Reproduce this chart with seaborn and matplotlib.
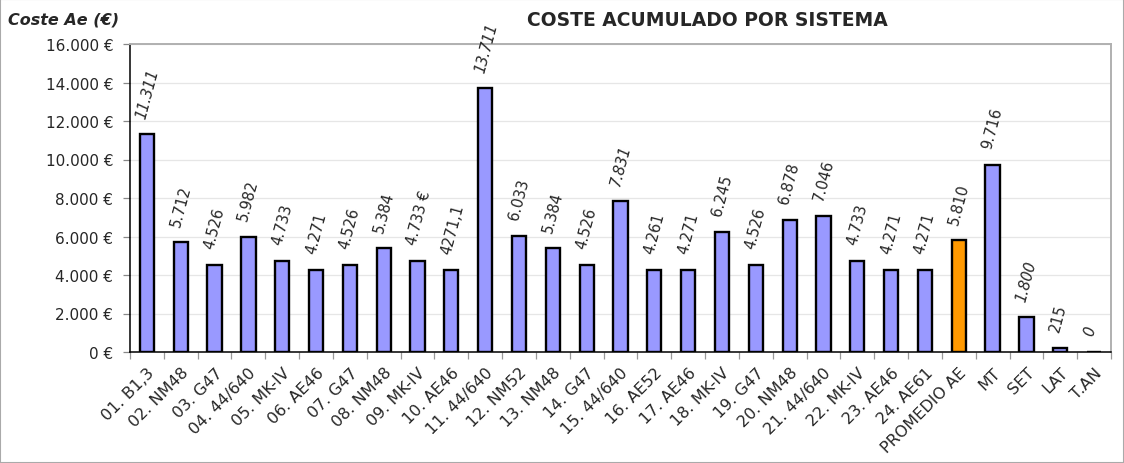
import matplotlib
matplotlib.use("Agg")
import matplotlib.pyplot as plt
from matplotlib.patches import Rectangle
from matplotlib.ticker import FuncFormatter, FixedLocator
import seaborn as sns
import pandas as pd

# Systems and their accumulated cost (€)
systems = [
    "01. B1,3", "02. NM48", "03. G47", "04. 44/640", "05. MK-IV", "06. AE46",
    "07. G47", "08. NM48", "09. MK-IV", "10. AE46", "11. 44/640", "12. NM52",
    "13. NM48", "14. G47", "15. 44/640", "16. AE52", "17. AE46", "18. MK-IV",
    "19. G47", "20. NM48", "21. 44/640", "22. MK-IV", "23. AE46", "24. AE61",
    "PROMEDIO AE", "MT", "SET", "LAT", "T.AN",
]
costs = [
    11311, 5712, 4526, 5982, 4733, 4271, 4526, 5384, 4733, 4271.1, 13711, 6033,
    5384, 4526, 7831, 4261, 4271, 6245, 4526, 6878, 7046, 4733, 4271, 4271,
    5810, 9716, 1800, 215, 0,
]
value_labels = [
    "11.311", "5.712", "4.526", "5.982", "4.733", "4.271", "4.526", "5.384",
    "4.733 €", "4271,1", "13.711", "6.033", "5.384", "4.526", "7.831", "4.261",
    "4.271", "6.245", "4.526", "6.878", "7.046", "4.733", "4.271", "4.271",
    "5.810", "9.716", "1.800", "215", "0",
]
y_ticks = [0, 2000, 4000, 6000, 8000, 10000, 12000, 14000, 16000]

# Styling
bar_color = "#9999FF"
highlight = "PROMEDIO AE"
highlight_color = "#FF9900"
italic_labels = {"11.311", "13.711", "7.831", "1.800", "0"}

df = pd.DataFrame({"sistema": systems, "coste": costs})
palette = {s: (highlight_color if s == highlight else bar_color) for s in systems}

sns.set_theme(style="white", rc={"axes.edgecolor": "#b0b0b0"})
plt.rcParams["font.family"] = ["DejaVu Sans"]

fig = plt.figure(figsize=(11.24, 4.64), dpi=100)
ax = fig.add_axes([130 / 1124, 1 - 353 / 464, (1111 - 130) / 1124, (353 - 45) / 464])

sns.barplot(
    data=df, x="sistema", y="coste", hue="sistema", palette=palette,
    order=systems, hue_order=systems, legend=False, width=0.42,
    edgecolor="black", linewidth=1.7, saturation=1, ax=ax,
)

n = len(systems)
ax.set_xlim(-0.5, n - 0.5)
ax.set_ylim(0, 16000)
ax.yaxis.set_major_locator(FixedLocator(y_ticks))
ax.yaxis.set_major_formatter(
    FuncFormatter(lambda v, _: f"{int(v):,}".replace(",", ".") + " €")
)
ax.yaxis.grid(True, color="#e6e6e6", linewidth=0.9)
ax.set_axisbelow(True)

# category labels at bar centres, tick marks at category boundaries
ax.set_xticks(range(n))
ax.set_xticklabels(systems, fontsize=11.5)
for lbl in ax.get_xticklabels():
    lbl.set_rotation(45)
    lbl.set_ha("right")
    lbl.set_va("top")
    lbl.set_rotation_mode("anchor")
ax.tick_params(axis="x", which="major", length=0, pad=9)
ax.set_xticks([i - 0.5 for i in range(n + 1)], minor=True)
ax.tick_params(axis="x", which="minor", direction="out", length=5,
               color="#999999", width=0.9, bottom=True)
ax.tick_params(axis="y", direction="out", length=5, color="#888888",
               width=0.9, left=True, labelsize=11, pad=7)

ax.set_xlabel("")
ax.set_ylabel("")

for side in ("left", "bottom"):
    ax.spines[side].set_color("black")
    ax.spines[side].set_linewidth(1.1)
for side in ("top", "right"):
    ax.spines[side].set_color("#b0b0b0")
    ax.spines[side].set_linewidth(1.4)

# rotated value labels above each bar
for i, (v, lab) in enumerate(zip(costs, value_labels)):
    ax.annotate(
        lab, xy=(i, v), xytext=(-4, 12), textcoords="offset points",
        rotation=75, rotation_mode="anchor", ha="left", va="center",
        fontsize=10.5, style="italic" if lab in italic_labels else "normal",
        annotation_clip=False,
    )

fig.text(707 / 1124, 1 - 20 / 464, "COSTE ACUMULADO POR SISTEMA",
         ha="center", va="center", fontsize=13.5, fontweight="bold")
fig.text(8 / 1124, 1 - 20 / 464, "Coste Ae (€)", ha="left", va="center",
         fontsize=11.5, fontweight="bold", style="italic")

fig.patches.append(Rectangle((0, 0), 1, 1, transform=fig.transFigure,
                             fill=False, edgecolor="#aaaaaa", linewidth=1.5))

fig.savefig("out.png", dpi=100)
